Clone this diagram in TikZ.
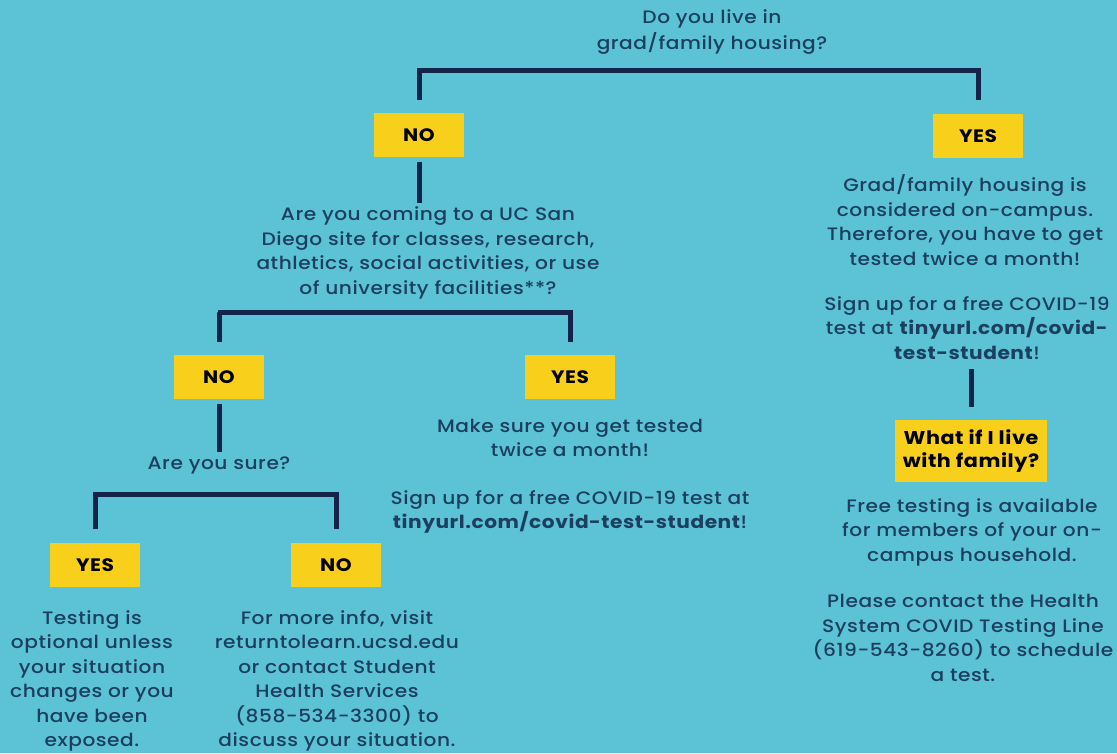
\documentclass[tikz,border=0pt]{standalone}
\usepackage{fontspec}
\setmainfont{Poppins}[UprightFont=*-Medium, BoldFont=*-Bold, FakeStretch=1.12, LetterSpace=3]
\usetikzlibrary{positioning}
\definecolor{sky}{HTML}{5CC3D6}
\definecolor{gold}{HTML}{F8D01C}
\definecolor{navy}{HTML}{13234A}
\definecolor{ink}{HTML}{1C3F5F}

\begin{document}
\begin{tikzpicture}[x=1pt,y=1pt,
  answer/.style={fill=gold, text=black, font=\bfseries\fontsize{18}{22}\selectfont, minimum width=90pt, minimum height=44pt, inner sep=2pt},
  info/.style={text=ink, align=center, font=\fontsize{18}{24.5}\selectfont, inner sep=0pt},
  branch/.style={draw=navy, line width=5pt}]
  \fill[sky] (0,0) rectangle (1117,753);
  \useasboundingbox (0,0) rectangle (1117,753);

  % first question
  \node[info, font=\fontsize{18}{26}\selectfont] (q0) at (712,721) {Do you live in\\grad/family housing?};
  \node[answer] (no1) at (419,618) {NO};
  \node[answer] (yes1) at (978,617) {YES};
  \coordinate (split1) at (419,682);
  \draw[branch] ([yshift=13pt]no1.north) |- (split1) -| ([yshift=14pt]yes1.north);

  % left branch
  \node[info] (q1) at (428,500) {Are you coming to a UC San\\Diego site for classes, research,\\athletics, social activities, or use\\of university facilities**?};
  \draw[branch] ([yshift=-5pt]no1.south) -- ([yshift=4pt]no1.south |- q1.north);
  \node[answer] (no2) at (219,376) {NO};
  \node[answer] (yes2) at (570,376) {YES};
  \coordinate (split2) at (218,440);
  \draw[branch] ([yshift=13pt]no2.north) |- (split2) -| ([yshift=13pt]yes2.north);

  \node[info] (m1) at (570,315) {Make sure you get tested\\twice a month!};
  \node[info] (m2) at (570,241) {Sign up for a free COVID-19 test at\\\textbf{tinyurl.com/covid-test-student}!};

  \node[info] (q2) at (219,288) {Are you sure?};
  \draw[branch] ([yshift=-5pt]no2.south) -- ([yshift=4pt]no2.south |- q2.north);
  \node[answer] (yes3) at (95,188) {YES};
  \node[answer] (no3) at (336,188) {NO};
  \coordinate (split3) at (95,258);
  \draw[branch] ([yshift=14pt]yes3.north) |- (split3) -| ([yshift=14pt]no3.north);

  \node[info] (l1) at (92,72) {Testing is\\optional unless\\your situation\\changes or you\\have been\\exposed.};
  \node[info] (l2) at (337,72) {For more info, visit\\returntolearn.ucsd.edu\\or contact Student\\Health Services\\(858-534-3300) to\\discuss your situation.};

  % right branch
  \node[info] (r1) at (965,533) {Grad/family housing is\\considered on-campus.\\Therefore, you have to get\\tested twice a month!};
  \node[info] (r2) at (967,425) {Sign up for a free COVID-19\\test at \textbf{tinyurl.com/covid-}\\\textbf{test-student}!};
  \node[answer, font=\bfseries\fontsize{18.5}{23}\selectfont, align=center, minimum width=152pt, minimum height=62pt] (fam) at (971,302) {What if I live\\with family?};
  \draw[branch] ([yshift=13pt]fam.north) -- ([yshift=-9pt]fam.north |- r2.south);
  \node[info] (r3) at (972,221) {Free testing is available\\for members of your on-\\campus household.};
  \node[info] (r4) at (963,115) {Please contact the Health\\System COVID Testing Line\\(619-543-8260) to schedule\\a test.};
\end{tikzpicture}
\end{document}
